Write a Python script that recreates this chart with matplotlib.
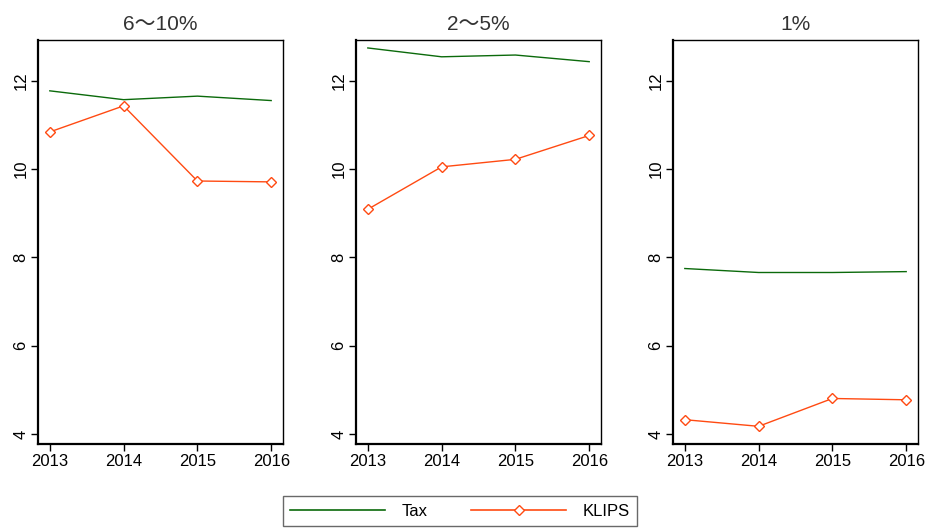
import matplotlib
matplotlib.use("Agg")
import matplotlib.pyplot as plt
from matplotlib.lines import Line2D

# 연도별 세금자료(Tax)와 KLIPS 추정치
years = [2013, 2014, 2015, 2016]
groups = ["6～10%", "2～5%", "1%"]
tax = [
    [11.77, 11.57, 11.65, 11.55],
    [12.74, 12.54, 12.58, 12.43],
    [7.75, 7.66, 7.66, 7.68],
]
klips = [
    [10.84, 11.43, 9.73, 9.71],
    [9.09, 10.05, 10.22, 10.76],
    [4.33, 4.18, 4.81, 4.78],
]

green = "#0b6a0b"
orange = "#ff4a12"

plt.rcParams["font.family"] = ["Liberation Sans", "Noto Sans CJK KR", "DejaVu Sans"]

W, H = 927, 529
fig = plt.figure(figsize=(W / 100, H / 100), dpi=100)

# 패널 위치 (픽셀)
lefts = [38, 356, 673]
pw = 245
top, bottom = 40, 444

for i in range(3):
    ax = fig.add_axes([lefts[i] / W, (H - bottom) / H, pw / W, (bottom - top) / H])
    ax.plot(years, tax[i], color=green, lw=1.0)
    ax.plot(years, klips[i], color=orange, lw=1.0, marker="D", markersize=5,
            markerfacecolor="white", markeredgecolor=orange, markeredgewidth=1.0)
    ax.set_xlim(2012.84, 2016.16)
    ax.set_ylim(3.78, 12.92)
    ax.set_xticks(years)
    ax.set_yticks([4, 6, 8, 10, 12])
    ax.tick_params(axis="both", direction="out", length=5, width=1, labelsize=12, pad=2)
    ax.tick_params(top=False, right=False)
    for lab in ax.get_yticklabels():
        lab.set_rotation(90)
        lab.set_va("center")
    for s in ["left", "bottom"]:
        ax.spines[s].set_linewidth(1.6)
    for s in ["top", "right"]:
        ax.spines[s].set_linewidth(1.0)
    ax.set_title(groups[i], fontsize=15, pad=7, color="#333333",
                 family=["Liberation Sans", "Noto Sans CJK KR", "DejaVu Sans"])

# 범례
handles = [
    Line2D([], [], color=green, lw=1.2),
    Line2D([], [], color=orange, lw=1.2, marker="D", markersize=5,
           markerfacecolor="white", markeredgecolor=orange),
]
leg = fig.legend(handles, ["Tax", "KLIPS"], loc="center", ncol=2,
                 bbox_to_anchor=(460 / W, 1 - 511 / H), frameon=True, fancybox=False,
                 handlelength=5.7, columnspacing=2.6, handletextpad=1.0, fontsize=12,
                 borderpad=0.45)
leg.get_frame().set_edgecolor("#444444")
leg.get_frame().set_linewidth(1.0)

fig.savefig("out.png", dpi=100)
